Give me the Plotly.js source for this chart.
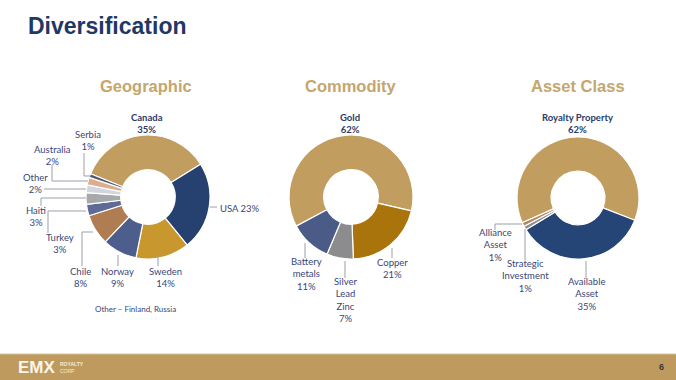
<!DOCTYPE html>
<html>
<head>
<meta charset="utf-8">
<script src="https://cdn.plot.ly/plotly-3.0.1.min.js"></script>
<style>
  html, body { margin: 0; padding: 0; background: #ffffff; }
  #chart { width: 676px; height: 380px; }
</style>
</head>
<body>
<div id="chart"></div>
<script>
// ---------------- DATA ----------------
const pageTitle = "Diversification";
const panelTitles = ["Geographic", "Commodity", "Asset Class"];

const geoLabels = ["Canada", "USA", "Sweden", "Norway", "Chile", "Turkey", "Haiti", "Other", "Australia", "Serbia"];
const geoValues = [35, 23, 14, 9, 8, 3, 3, 2, 2, 1];
const geoNote = "Other – Finland, Russia";

const comLabels = ["Gold", "Copper", "Silver Lead Zinc", "Battery metals"];
const comValues = [62, 21, 7, 11];

const assetLabels = ["Royalty Property", "Available Asset", "Strategic Investment", "Alliance Asset"];
const assetValues = [62, 35, 1, 1];

const footerBrand = "EMX";
const footerBrandSub = ["ROYALTY", "CORP"];
const pageNumber = "6";

// ---------------- STYLE / LAYOUT ----------------
const W = 676, H = 380;
const px = x => x / W;
const py = y => 1 - y / H;

const geoColors = ["#C19D5F", "#26416F", "#C8982F", "#4D5E8C", "#B07C52", "#5F6B96", "#A8A9AA", "#D3D5DE", "#DDAE8D", "#535A72"];
const comColors = ["#C19D5F", "#A9740C", "#8C8C8E", "#4B5B88"];
const assetColors = ["#C19D5F", "#254576", "#8E8E94", "#B48460"];

const labelColor = "#3A4677";
const labelFont = "Lato, 'Noto Sans', sans-serif";

function pieTrace(labels, values, colors, box, rotation) {
  return {
    type: "pie",
    labels: labels,
    values: values,
    sort: false,
    direction: "clockwise",
    rotation: rotation,
    hole: 0.44,
    textinfo: "none",
    hoverinfo: "label+percent",
    showlegend: false,
    marker: { colors: colors, line: { color: "#ffffff", width: 1.2 } },
    domain: { x: [px(box.cx - box.r), px(box.cx + box.r)], y: [py(box.cy + box.r), py(box.cy - box.r)] }
  };
}

const traces = [
  pieTrace(geoLabels, geoValues, geoColors, { cx: 148, cy: 197, r: 62 }, -68),
  pieTrace(comLabels, comValues, comColors, { cx: 351, cy: 197, r: 62 }, -118),
  pieTrace(assetLabels, assetValues, assetColors, { cx: 578, cy: 198, r: 61 }, -114)
];

// label placements: index into data arrays, position, how to split the name
const geoPlace = [
  { i: 0, x: 147, y: 123, bold: true },
  { i: 1, x: 218, y: 208, inline: true },
  { i: 2, x: 165, y: 277 },
  { i: 3, x: 117, y: 277 },
  { i: 4, x: 80, y: 277 },
  { i: 5, x: 60, y: 243 },
  { i: 6, x: 36, y: 216 },
  { i: 7, x: 35, y: 184 },
  { i: 8, x: 52, y: 155 },
  { i: 9, x: 88, y: 140 }
];
const comPlace = [
  { i: 0, x: 350, y: 123, bold: true },
  { i: 1, x: 392, y: 268 },
  { i: 2, x: 345, y: 300, split: true },
  { i: 3, x: 306, y: 274, split: true }
];
const assetPlace = [
  { i: 0, x: 577, y: 123, bold: true },
  { i: 1, x: 586, y: 294, split: true },
  { i: 2, x: 525, y: 276, split: true },
  { i: 3, x: 495, y: 245, split: true }
];

function buildLabels(labels, values, places) {
  return places.map(p => {
    const name = p.split ? labels[p.i].split(" ").join("<br>") : labels[p.i];
    const pct = values[p.i] + "%";
    let text = p.inline ? name + " " + pct : name + "<br>" + pct;
    if (p.bold) text = "<b>" + text + "</b>";
    return {
      xref: "paper", yref: "paper", x: px(p.x), y: py(p.y),
      xanchor: p.inline ? "left" : "center", yanchor: "middle",
      text: text, showarrow: false, align: "center",
      font: { family: labelFont, size: 9.5, color: p.bold ? "#2B3B6B" : labelColor }
    };
  });
}

const annotations = [].concat(
  buildLabels(geoLabels, geoValues, geoPlace),
  buildLabels(comLabels, comValues, comPlace),
  buildLabels(assetLabels, assetValues, assetPlace)
);

annotations.push({
  xref: "paper", yref: "paper", x: px(135), y: py(309), xanchor: "center", yanchor: "middle",
  text: geoNote, showarrow: false, font: { family: labelFont, size: 8, color: labelColor }
});

// page title
annotations.push({
  xref: "paper", yref: "paper", x: px(26), y: py(26), xanchor: "left", yanchor: "middle",
  text: "<b>" + pageTitle + "</b>", showarrow: false,
  font: { family: "Liberation Sans, Arial, sans-serif", size: 23, color: "#1F3864" }
});

// panel titles
const panelX = [146, 351, 578];
panelTitles.forEach((t, k) => {
  annotations.push({
    xref: "paper", yref: "paper", x: px(panelX[k]), y: py(86), xanchor: "center", yanchor: "middle",
    text: "<b>" + t + "</b>", showarrow: false,
    font: { family: "Liberation Sans, Arial, sans-serif", size: 16.5, color: "#C4A66E" }
  });
});

// footer
annotations.push({
  xref: "paper", yref: "paper", x: px(16), y: py(367), xanchor: "left", yanchor: "middle",
  text: "<b>" + footerBrand + "</b>", showarrow: false,
  font: { family: "Liberation Sans, Arial, sans-serif", size: 17, color: "#FBF6EC" }
});
annotations.push({
  xref: "paper", yref: "paper", x: px(58), y: py(367), xanchor: "left", yanchor: "middle",
  text: "<b>" + footerBrandSub[0] + "</b><br>" + footerBrandSub[1], showarrow: false, align: "left",
  font: { family: "Liberation Sans, Arial, sans-serif", size: 5, color: "#F4EBD8" }
});
annotations.push({
  xref: "paper", yref: "paper", x: px(661), y: py(367), xanchor: "center", yanchor: "middle",
  text: "<b>" + pageNumber + "</b>", showarrow: false,
  font: { family: "Liberation Sans, Arial, sans-serif", size: 9, color: "#3A3A3A" }
});

// leader lines (polylines in pixel coords)
const leaders = [
  [[84, 153], [84, 176], [90, 176]],
  [[52, 165], [52, 181], [88, 181]],
  [[44, 189], [86, 189]],
  [[41, 206], [41, 198], [86, 198]],
  [[48, 233], [48, 211], [86, 211]],
  [[82, 266], [82, 232], [93, 232]],
  [[118, 266], [118, 255]],
  [[158, 266], [158, 256]],
  [[210, 207], [217, 207]],
  [[305, 258], [305, 243]],
  [[345, 278], [345, 261]],
  [[392, 258], [392, 248]],
  [[495, 230], [495, 224], [522, 224]],
  [[525, 260], [525, 229]],
  [[586, 278], [586, 261]]
];
const shapes = [];
leaders.forEach(pts => {
  for (let k = 0; k < pts.length - 1; k++) {
    shapes.push({
      type: "line", xref: "paper", yref: "paper",
      x0: px(pts[k][0]), y0: py(pts[k][1]), x1: px(pts[k + 1][0]), y1: py(pts[k + 1][1]),
      line: { color: "#9C9FA8", width: 1 }
    });
  }
});
// footer band
shapes.push({
  type: "rect", xref: "paper", yref: "paper", x0: 0, x1: 1, y0: 0, y1: py(354),
  fillcolor: "#BE9A5E", line: { width: 0 }, layer: "below"
});
shapes.push({
  type: "line", xref: "paper", yref: "paper", x0: 0, x1: 1, y0: py(354), y1: py(354),
  line: { color: "#D8C29A", width: 1 }
});

const layout = {
  width: W, height: H,
  margin: { l: 0, r: 0, t: 0, b: 0 },
  paper_bgcolor: "#ffffff",
  showlegend: false,
  annotations: annotations,
  shapes: shapes
};

Plotly.newPlot("chart", traces, layout, { displayModeBar: false, staticPlot: true });
</script>
</body>
</html>
